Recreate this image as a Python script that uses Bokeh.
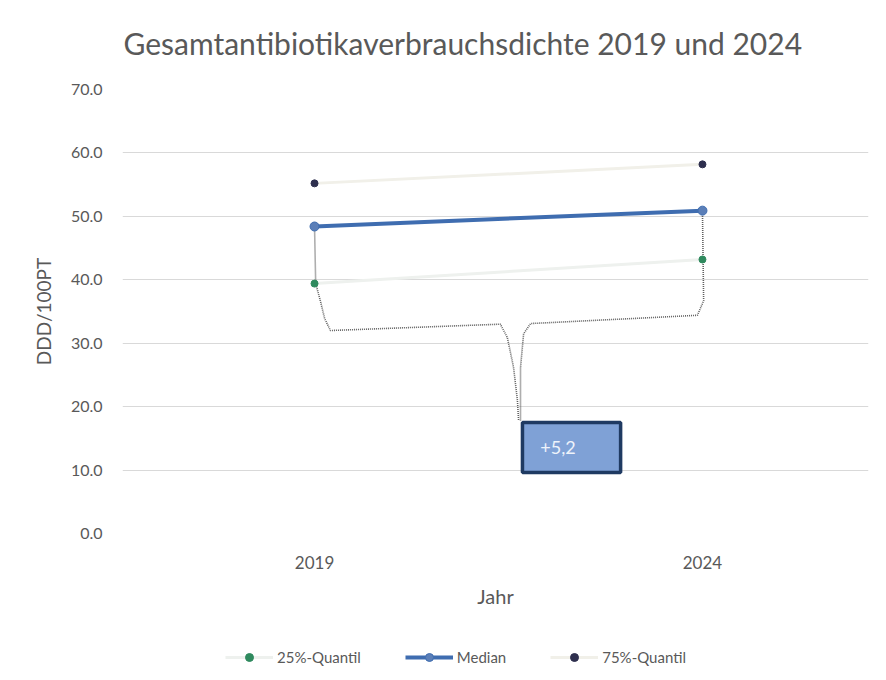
from bokeh.plotting import figure
from bokeh.layouts import column
from bokeh.models import (Range1d, FixedTicker, NumeralTickFormatter, Legend, LegendItem,
                          ColumnDataSource, Label)
from bokeh.embed import file_html
from bokeh.resources import INLINE

title_text = "Gesamtantibiotikaverbrauchsdichte 2019 und 2024"
years = ["2019", "2024"]
xpos = [0, 1]
q25 = [39.4, 43.2]
median = [48.4, 50.9]
q75 = [55.2, 58.2]
y_ticks = [0, 10, 20, 30, 40, 50, 60, 70]
callout_text = "+5,2"
series_names = ["25%-Quantil", "Median", "75%-Quantil"]

FONT = "Lato"
TXT = "#595959"
C25 = "#2f8a5e"
C75 = "#2e2f4e"
CMED = "#3f6db0"
CMED_FILL = "#5b7fb8"
F25 = "#eef1ee"
F75 = "#f1f0e9"


def blank_fig(h):
    f = figure(width=870, height=h, output_backend="svg", toolbar_location=None,
               x_range=Range1d(0, 1), y_range=Range1d(0, 1),
               min_border_left=0, min_border_right=0, min_border_top=0, min_border_bottom=0)
    f.axis.visible = False
    f.grid.visible = False
    f.outline_line_color = None
    f.border_fill_color = "white"
    return f


# title strip
tf = blank_fig(60)
tf.add_layout(Label(x=1, y=18, x_units="screen", y_units="screen", text=title_text,
                    text_font=FONT, text_font_size="30px", text_color=TXT,
                    text_baseline="middle", text_align="left"))

p = figure(width=870, height=555, output_backend="svg", toolbar_location=None,
           x_range=Range1d(-0.495, 1.428), y_range=Range1d(0, 70),
           min_border_left=122, min_border_right=2, min_border_top=29, min_border_bottom=82)
p.outline_line_color = None
p.background_fill_color = "white"
p.border_fill_color = "white"

# axes
p.xaxis.ticker = FixedTicker(ticks=xpos)
p.xaxis.major_label_overrides = {x: y for x, y in zip(xpos, years)}
p.yaxis.ticker = FixedTicker(ticks=y_ticks)
p.yaxis.formatter = NumeralTickFormatter(format="0.0")
for ax in (p.xaxis[0], p.yaxis[0]):
    ax.axis_line_color = None
    ax.major_tick_line_color = None
    ax.minor_tick_line_color = None
    ax.major_label_text_font = FONT
    ax.major_label_text_font_size = "16px"
    ax.major_label_text_color = TXT
    ax.axis_label_text_font = FONT
    ax.axis_label_text_font_style = "normal"
    ax.axis_label_text_color = TXT
p.xaxis.major_label_text_font_size = "17px"
p.xaxis.axis_label = "Jahr"
p.xaxis.axis_label_text_font_size = "20px"
p.yaxis.axis_label = "DDD/100PT"
p.yaxis.axis_label_text_font_size = "19px"
p.xaxis.major_label_standoff = 16
p.xaxis.axis_label_standoff = 12
p.yaxis.major_label_standoff = 14
p.yaxis.axis_label_standoff = 13
p.xgrid.grid_line_color = None
p.ygrid.grid_line_color = "#d9d9d9"
p.ygrid.grid_line_width = 1

src = ColumnDataSource(dict(x=xpos, q25=q25, med=median, q75=q75))

# faint quantile lines
p.line("x", "q25", source=src, line_color=F25, line_width=3)
p.line("x", "q75", source=src, line_color=F75, line_width=3)

# callout bracket (dotted)
bx_left = [0, 0.003, 0.015, 0.026, 0.041, 0.479, 0.497, 0.513, 0.523, 0.526]
by_left = [median[0], 39.4, 36.7, 33.9, 32.0, 33.0, 30.9, 26.2, 21.0, 17.8]
bx_right = [0.531, 0.531, 0.539, 0.557, 0.987, 1.003, 1.0]
by_right = [17.8, 26.2, 31.5, 33.1, 34.4, 36.7, median[1]]
p.line(bx_left, by_left, line_color="#5f5f5f", line_width=1.6, line_dash="1 1")
p.line(bx_right, by_right, line_color="#5f5f5f", line_width=1.6, line_dash="1 1")

# median line and markers
p.line("x", "med", source=src, line_color=CMED, line_width=4)
p.scatter("x", "med", source=src, size=9, fill_color=CMED_FILL, line_color=CMED)
p.scatter("x", "q25", source=src, size=7, fill_color=C25, line_color=C25)
p.scatter("x", "q75", source=src, size=7, fill_color=C75, line_color=C75)

# callout box
p.quad(left=[0.536], right=[0.789], bottom=[9.6], top=[17.5],
       fill_color="#7fa1d6", line_color="#1f3a62", line_width=3.5)
p.add_layout(Label(x=0.582, y=13.5, text=callout_text, text_font=FONT, text_font_size="18px",
                   text_color="#eef3fb", text_baseline="middle", text_align="left"))

# legend strip below (its glyphs sit outside its visible range; only the legend shows)
lg = blank_fig(57)
off = dict(x=[5], y=[5])
r25l = lg.line(x=[5, 6], y=[5, 6], line_color=F25, line_width=3)
r25m = lg.scatter(size=7, fill_color=C25, line_color=C25, **off)
rmedl = lg.line(x=[5, 6], y=[5, 6], line_color=CMED, line_width=4)
rmedm = lg.scatter(size=9, fill_color=CMED_FILL, line_color=CMED, **off)
r75l = lg.line(x=[5, 6], y=[5, 6], line_color=F75, line_width=3)
r75m = lg.scatter(size=7, fill_color=C75, line_color=C75, **off)

legend = Legend(items=[
    LegendItem(label=series_names[0], renderers=[r25l, r25m]),
    LegendItem(label=series_names[1], renderers=[rmedl, rmedm]),
    LegendItem(label=series_names[2], renderers=[r75l, r75m]),
], orientation="horizontal", location=(103, 5))
legend.label_text_font = FONT
legend.label_text_font_size = "15px"
legend.label_text_color = TXT
legend.border_line_color = None
legend.background_fill_alpha = 0
legend.glyph_width = 48
legend.spacing = 44
legend.label_standoff = 4
legend.padding = 5
legend.margin = 0
lg.add_layout(legend)

layout = column(tf, p, lg, spacing=0)
open("out.html", "w").write(file_html(layout, INLINE))
